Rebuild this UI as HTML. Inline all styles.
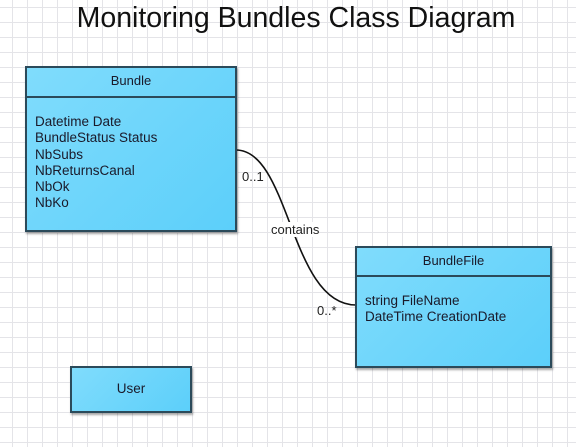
<!DOCTYPE html>
<html><head><style>
body{margin:0;width:576px;height:447px;overflow:hidden;background:#fff;font-family:"Liberation Sans",sans-serif;position:relative;
background-image:linear-gradient(#e4e4e8 1px,transparent 1px),linear-gradient(90deg,#e4e4e8 1px,transparent 1px);
background-size:15px 15px;background-position:12px 7px;}
.box{position:absolute;background:linear-gradient(135deg,#80dcfc,#5ccffa);border:2px solid #2b4a5a;box-shadow:1px 2px 2px rgba(0,0,0,.35);box-sizing:border-box;color:#1a1a2a}
.hd{text-align:center;border-bottom:2px solid #2b4a5a;box-sizing:border-box;font-size:13px}
.bd{font-size:13.5px;line-height:16.3px;padding-left:8px}
.t{position:absolute;font-size:13px;color:#222}
</style></head><body>
<div style="position:absolute;left:8px;width:576px;top:2px;text-align:center;font-size:28.5px;color:#111">Monitoring Bundles Class Diagram</div>
<svg style="position:absolute;left:0;top:0" width="576" height="447"><path d="M236 150 C290 150,290 305,356 305" fill="none" stroke="#111" stroke-width="1.6"/></svg>
<div class="box" style="left:25px;top:66px;width:212px;height:166px">
<div class="hd" style="height:30px;line-height:26px">Bundle</div>
<div class="bd" style="padding-top:16px">Datetime Date<br>BundleStatus Status<br>NbSubs<br>NbReturnsCanal<br>NbOk<br>NbKo</div></div>
<div class="box" style="left:355px;top:246px;width:197px;height:122px">
<div class="hd" style="height:29px;line-height:26px">BundleFile</div>
<div class="bd" style="padding-top:16px;line-height:16px">string FileName<br>DateTime CreationDate</div></div>
<div class="box" style="left:70px;top:366px;width:122px;height:47px;text-align:center;line-height:42px;font-size:13.5px">User</div>
<div class="t" style="left:242px;top:169px">0..1</div>
<div class="t" style="left:271px;top:222px;background:#fff">contains</div>
<div class="t" style="left:317px;top:303px">0..*</div>
</body></html>
